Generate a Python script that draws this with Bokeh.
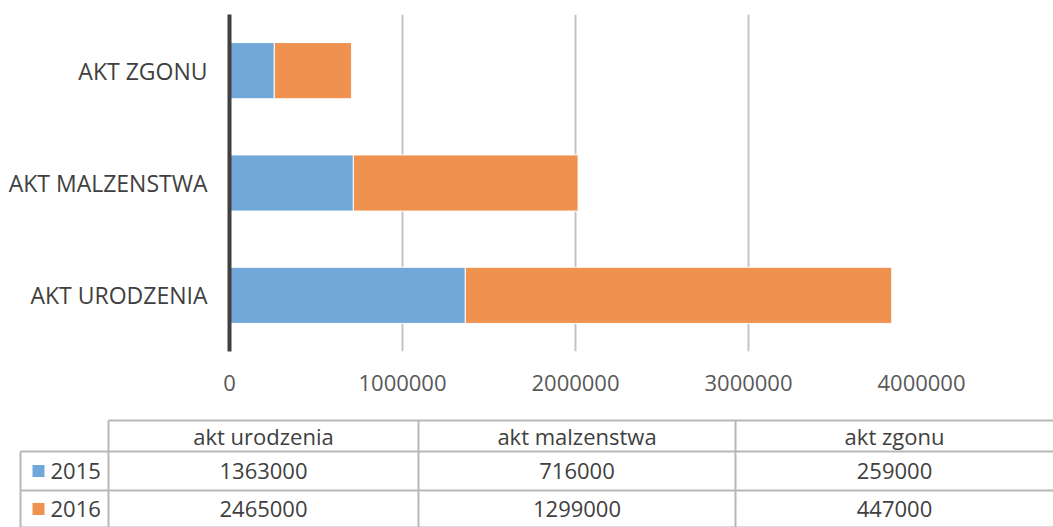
from bokeh.plotting import figure
from bokeh.models import FactorRange, Range1d, FixedTicker, ColumnDataSource, BasicTickFormatter
from bokeh.embed import file_html
from bokeh.resources import INLINE
from bokeh.core.properties import value

# ---- data ----
categories = ["AKT URODZENIA", "AKT MALZENSTWA", "AKT ZGONU"]
table_headers = ["akt urodzenia", "akt malzenstwa", "akt zgonu"]
series_names = ["2015", "2016"]
values_2015 = [1363000, 716000, 259000]
values_2016 = [2465000, 1299000, 447000]
x_ticks = [0, 1000000, 2000000, 3000000, 4000000]

BLUE = "#72a7da"
ORANGE = "#ef914f"
FONT = "Open Sans"
W = 1053

# ---- chart ----
src = ColumnDataSource(dict(cat=categories, v2015=values_2015, v2016=values_2016,
                            end2015=values_2015,
                            end2016=[a + b for a, b in zip(values_2015, values_2016)]))

p = figure(width=W, height=400, y_range=FactorRange(factors=categories, range_padding=0),
           x_range=Range1d(0, 4000000), output_backend="svg", toolbar_location=None,
           min_border_left=229, min_border_right=W - 921, min_border_top=14, min_border_bottom=49)
p.outline_line_color = None
p.background_fill_color = "white"
p.border_fill_color = "white"

p.hbar(y="cat", left=0, right="end2015", height=0.5, source=src, fill_color=BLUE, line_color="white", line_width=1)
p.hbar(y="cat", left="end2015", right="end2016", height=0.5, source=src, fill_color=ORANGE, line_color="white", line_width=1)

p.xaxis.ticker = FixedTicker(ticks=x_ticks)
p.xaxis.formatter = BasicTickFormatter(use_scientific=False)
p.xaxis.axis_line_color = None
p.xaxis.major_tick_line_color = None
p.xaxis.minor_tick_line_color = None
p.xaxis.major_label_standoff = 17
p.xaxis.major_label_text_font = FONT
p.xaxis.major_label_text_font_size = "22px"
p.xaxis.major_label_text_color = "#595959"

p.yaxis.axis_line_color = "#404040"
p.yaxis.axis_line_width = 4
p.yaxis.major_tick_line_color = None
p.yaxis.minor_tick_line_color = None
p.yaxis.major_label_standoff = 16
p.yaxis.major_label_text_font = FONT
p.yaxis.major_label_text_font_size = "23px"
p.yaxis.major_label_text_color = "#404040"

p.xgrid.grid_line_color = "#c4c4c4"
p.xgrid.grid_line_width = 2
p.ygrid.grid_line_color = None

# ---- data table (page pixel coordinates) ----
t = figure(width=W, height=127, x_range=Range1d(0, W), y_range=Range1d(527, 400),
           output_backend="svg", toolbar_location=None, min_border=0)
t.axis.visible = False
t.grid.grid_line_color = None
t.outline_line_color = None

col_edges = [108, 418, 735, 1053]
row_edges = [420, 451, 490, 527]
LINE = "#b8b8b8"
# horizontal lines
t.segment(x0=[108, 20, 20, 20], y0=row_edges, x1=[1053] * 4, y1=row_edges, line_color=LINE, line_width=2)
# vertical lines
t.segment(x0=col_edges[:3], y0=[420] * 3, x1=col_edges[:3], y1=[527] * 3, line_color=LINE, line_width=2)
t.segment(x0=[20], y0=[451], x1=[20], y1=[527], line_color=LINE, line_width=2)

centers = [(col_edges[i] + col_edges[i + 1]) / 2 for i in range(3)]
row_mid = [(row_edges[i] + row_edges[i + 1]) / 2 for i in range(3)]

t.text(x=centers, y=[row_mid[0]] * 3, text=table_headers, text_align="center", text_baseline="middle",
       text_font=value(FONT), text_font_size="22px", text_color="#404040")
t.text(x=centers, y=[row_mid[1]] * 3, text=[str(v) for v in values_2015], text_align="center",
       text_baseline="middle", text_font=value(FONT), text_font_size="22px", text_color="#404040")
t.text(x=centers, y=[row_mid[2]] * 3, text=[str(v) for v in values_2016], text_align="center",
       text_baseline="middle", text_font=value(FONT), text_font_size="22px", text_color="#404040")

# legend keys
t.rect(x=[38, 38], y=[row_mid[1], row_mid[2]], width=12, height=12, fill_color=[BLUE, ORANGE], line_color=None)
t.text(x=[50, 50], y=[row_mid[1], row_mid[2]], text=series_names, text_align="left", text_baseline="middle",
       text_font=value(FONT), text_font_size="22px", text_color="#404040")

open("out.html", "w").write(file_html([p, t], INLINE))
